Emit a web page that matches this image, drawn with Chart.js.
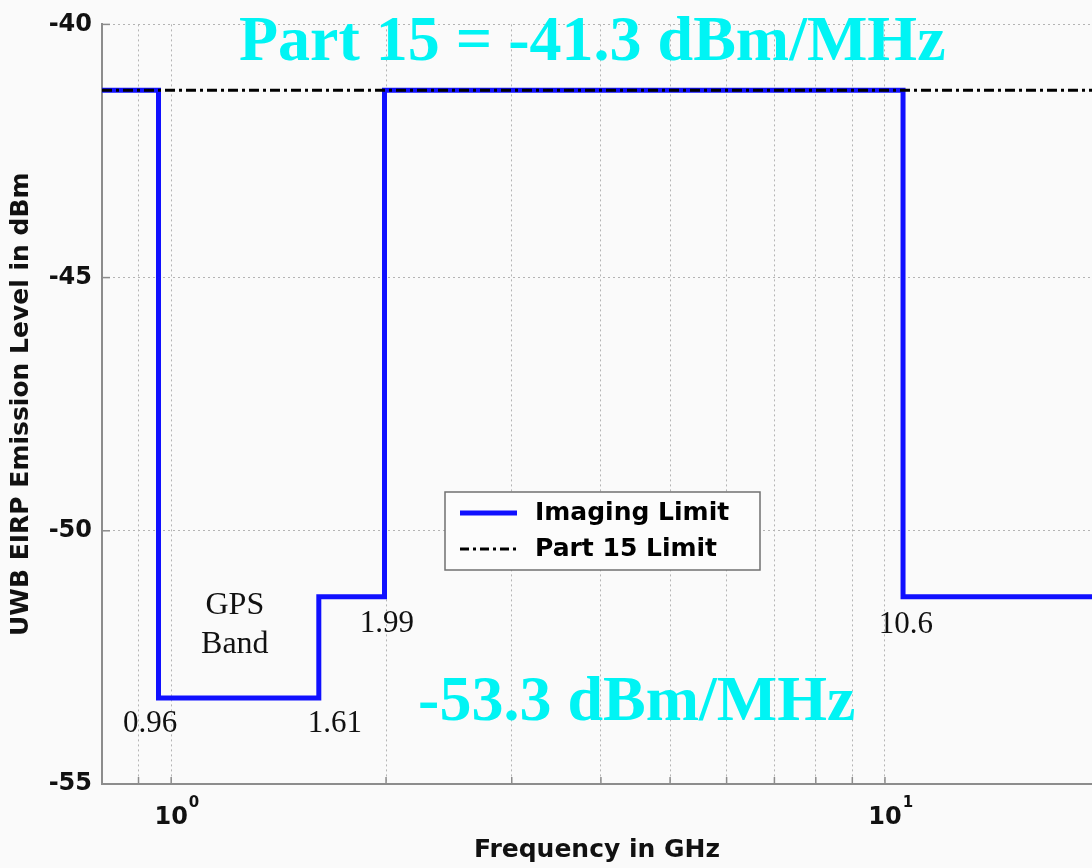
<!DOCTYPE html>
<html>
<head>
<meta charset="utf-8">
<script src="https://cdn.jsdelivr.net/npm/chart.js@4.4.0/dist/chart.umd.min.js"></script>
<style>
  html, body { margin: 0; padding: 0; background: #fafafa; }
  #wrap { width: 1092px; height: 868px; position: relative; }
</style>
</head>
<body>
<div id="wrap"><canvas id="grafico"></canvas></div>
<script>
// datos (GHz / dBm)
const frecuencias = [0.8, 0.96, 1.61, 1.99, 10.6, 19.5];
const nivelImaging = [-41.3, -53.3, -51.3, -41.3, -51.3, -51.3];
const frecuenciasPart15 = [0.8, 19.5];
const nivelPart15 = [-41.3, -41.3];
const ticksX = [0.9, 1, 2, 3, 4, 5, 6, 7, 8, 9, 10];
const ticksY = [-55, -50, -45, -40];
const exponentesX = {1: '0', 10: '1'}; // etiquetas 10^0 y 10^1

const sans = '"DejaVu Sans", sans-serif';
const serif = '"Liberation Serif", "Times New Roman", serif';
const cian = '#00f4f4';

// textos sobre la grafica, anclados en coordenadas de datos
const notas = [
    {texto: 'Part 15 = -41.3 dBm/MHz', x: 3.89, y: -40.71, fuente: 'bold 64px ' + serif, color: cian},
    {texto: '-53.3 dBm/MHz', x: 4.49, y: -53.74, fuente: 'bold 64px ' + serif, color: cian},
    {texto: '0.96', x: 0.934, y: -53.97, fuente: '31px ' + serif, color: '#111'},
    {texto: '1.61', x: 1.696, y: -53.97, fuente: '31px ' + serif, color: '#111'},
    {texto: 'GPS', x: 1.228, y: -51.64, fuente: '32px ' + serif, color: '#111'},
    {texto: 'Band', x: 1.228, y: -52.41, fuente: '32px ' + serif, color: '#111'},
    {texto: '1.99', x: 2.006, y: -52.0, fuente: '31px ' + serif, color: '#111'},
    {texto: '10.6', x: 10.7, y: -52.02, fuente: '31px ' + serif, color: '#111'}
];

// marcas cortas hacia dentro en los ejes
const marcasInternas = {
    id: 'marcasInternas',
    afterDatasetsDraw(chart) {
        const {ctx, chartArea: a, scales: {x, y}} = chart;
        ctx.save();
        ctx.strokeStyle = '#8c8c8c';
        ctx.lineWidth = 1.5;
        x.ticks.forEach(t => {
            const px = x.getPixelForValue(t.value);
            ctx.beginPath(); ctx.moveTo(px, a.bottom); ctx.lineTo(px, a.bottom - 7); ctx.stroke();
        });
        y.ticks.forEach(t => {
            const py = y.getPixelForValue(t.value);
            ctx.beginPath(); ctx.moveTo(a.left, py); ctx.lineTo(a.left + 8, py); ctx.stroke();
        });
        ctx.restore();
    }
};

// exponente pequeño y elevado junto a las etiquetas "10"
const exponentes = {
    id: 'exponentes',
    afterDraw(chart) {
        const {ctx, chartArea: a, scales: {x}} = chart;
        ctx.save();
        ctx.font = 'bold 24px ' + sans;
        const mitad = ctx.measureText('10').width / 2;
        ctx.font = 'bold 15px ' + sans;
        ctx.fillStyle = '#111';
        ctx.textAlign = 'left';
        ctx.textBaseline = 'middle';
        Object.keys(exponentesX).forEach(v => {
            ctx.fillText(exponentesX[v], x.getPixelForValue(Number(v)) + mitad + 1, a.bottom + 19);
        });
        ctx.restore();
    }
};

const leyenda = {
    id: 'leyenda',
    afterDraw(chart) {
        const ctx = chart.ctx;
        const caja = {x: 445, y: 492, w: 315, h: 78};
        ctx.save();
        ctx.fillStyle = '#fcfcfc';
        ctx.fillRect(caja.x, caja.y, caja.w, caja.h);
        ctx.strokeStyle = '#707070';
        ctx.lineWidth = 1.5;
        ctx.strokeRect(caja.x, caja.y, caja.w, caja.h);
        chart.data.datasets.forEach((ds, i) => {
            const yy = caja.y + 21 + i * 36;
            ctx.strokeStyle = ds.borderColor;
            ctx.lineWidth = ds.borderWidth;
            ctx.setLineDash(ds.borderDash ? [9, 4, 3, 4] : []);
            ctx.beginPath(); ctx.moveTo(460, yy); ctx.lineTo(517, yy); ctx.stroke();
            ctx.setLineDash([]);
            ctx.fillStyle = '#000';
            ctx.font = 'bold 25px ' + sans;
            ctx.textBaseline = 'middle';
            ctx.textAlign = 'left';
            ctx.fillText(ds.label, 535, yy);
        });
        ctx.restore();
    }
};

const textos = {
    id: 'textos',
    afterDraw(chart) {
        const {ctx, scales: {x, y}} = chart;
        ctx.save();
        ctx.textAlign = 'center';
        ctx.textBaseline = 'alphabetic';
        notas.forEach(n => {
            ctx.font = n.fuente;
            ctx.fillStyle = n.color;
            ctx.fillText(n.texto, x.getPixelForValue(n.x), y.getPixelForValue(n.y));
        });
        ctx.restore();
    }
};

new Chart(document.getElementById('grafico'), {
    type: 'line',
    data: {
        datasets: [{
            label: 'Imaging Limit',
            data: frecuencias.map((f, i) => ({x: f, y: nivelImaging[i]})),
            borderColor: '#1010ff',
            borderWidth: 5,
            stepped: 'before',
            pointRadius: 0,
            order: 2
        }, {
            label: 'Part 15 Limit',
            data: frecuenciasPart15.map((f, i) => ({x: f, y: nivelPart15[i]})),
            borderColor: '#000',
            borderWidth: 3,
            borderDash: [10, 4, 3, 4],
            pointRadius: 0,
            order: 1
        }]
    },
    options: {
        responsive: true,
        maintainAspectRatio: false,
        animation: false,
        layout: { padding: { top: 24, left: 0, right: 0, bottom: 0 } },
        plugins: {
            legend: { display: false },
            tooltip: { enabled: false }
        },
        scales: {
            x: {
                type: 'logarithmic',
                min: 0.8,
                max: 19.5,
                afterBuildTicks: s => { s.ticks = ticksX.map(v => ({value: v})); },
                afterFit: s => { s.height = 84; },
                ticks: {
                    autoSkip: false,
                    maxRotation: 0,
                    padding: 19,
                    color: '#111',
                    font: { family: sans, size: 24, weight: 'bold' },
                    callback: v => (v in exponentesX) ? '10' : ''
                },
                grid: { color: '#b4b4b4', lineWidth: 1, drawTicks: false },
                border: { color: '#8c8c8c', width: 2, dash: [2, 3] },
                title: {
                    display: true,
                    text: 'Frequency in GHz',
                    color: '#111',
                    font: { family: sans, size: 25, weight: 'bold' },
                    padding: { top: 0, bottom: 3 }
                }
            },
            y: {
                min: -55,
                max: -40,
                afterBuildTicks: s => { s.ticks = ticksY.map(v => ({value: v})); },
                afterFit: s => { s.width = 102; },
                ticks: {
                    padding: 10,
                    color: '#111',
                    font: { family: sans, size: 24, weight: 'bold' }
                },
                grid: { color: '#b4b4b4', lineWidth: 1, drawTicks: false },
                border: { color: '#8c8c8c', width: 2, dash: [2, 3] },
                title: {
                    display: true,
                    text: 'UWB EIRP Emission Level in dBm',
                    color: '#111',
                    font: { family: sans, size: 25, weight: 'bold' },
                    padding: { top: 6, bottom: 0 }
                }
            }
        }
    },
    plugins: [marcasInternas, exponentes, leyenda, textos]
});
</script>
</body>
</html>
